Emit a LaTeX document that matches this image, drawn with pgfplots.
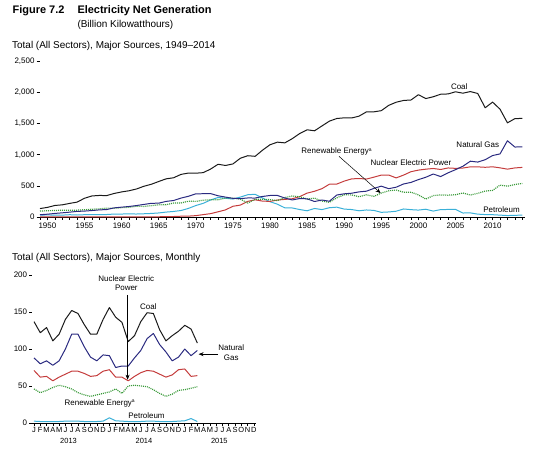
\documentclass[border=0pt]{standalone}
\usepackage{fontspec}
\setmainfont{Liberation Sans}
\usepackage{pgfplots}
\pgfplotsset{compat=1.18}
\usepackage{pgfplotstable}
\usetikzlibrary{arrows.meta}

\definecolor{coalc}{HTML}{1A1A1A}
\definecolor{gasc}{HTML}{2A2A80}
\definecolor{nucc}{HTML}{C43C3C}
\definecolor{renc}{HTML}{3A9A3A}
\definecolor{petc}{HTML}{3AB0D8}

\pgfplotstableread{
year coal gas nuc pet ren
1949 135.5 37 0 29 95
1950 154.5 45 0 34 101
1951 185.2 57 0 29 104
1952 195.4 67 0 30 110
1953 218.8 78 0 37 110
1954 239.1 90 0 32 110
1955 301.4 95 0 37 117
1956 338.5 104 0 37 125
1957 346.4 114 0 40 131
1958 344.4 120 0.2 40 143
1959 378.4 147 0.2 47 141
1960 403.1 158 0.5 48 150
1961 421.9 169 1.7 49 156
1962 450.2 184 2.3 48 172
1963 493.9 202 3.2 52 170
1964 526.2 220 3.3 57 182
1965 570.9 222 3.7 65 196
1966 613.5 251 5.5 79 198
1967 630.5 265 7.7 89 224
1968 684.9 304 12.5 104 225
1969 706.0 333 13.9 138 254
1970 704.4 373 21.8 184 251
1971 713.1 374 38.1 220 270
1972 771.1 376 54.1 274 277
1973 847.7 341 83.5 314 276
1974 828.4 320 114.0 301 306
1975 852.8 300 172.5 289 303
1976 944.4 295 191.1 320 288
1977 985.2 306 250.9 358 224
1978 975.7 305 276.4 365 284
1979 1075.0 330 255.2 304 285
1980 1161.6 346 251.1 246 279
1981 1203.2 346 272.7 206 264
1982 1192.0 305 282.8 147 313
1983 1259.4 274 293.7 145 338
1984 1341.7 297 327.6 120 325
1985 1402.1 292 383.7 100 289
1986 1385.8 249 414.0 137 303
1987 1463.8 273 455.3 119 256
1988 1540.7 253 527.0 149 236
1989 1583.6 353 529.4 158 308
1990 1594.0 373 576.9 127 357
1991 1592.0 382 612.6 120 355
1992 1621.2 404 618.8 100 326
1993 1690.1 415 610.3 113 357
1994 1690.7 460 640.4 106 331
1995 1709.4 496 673.4 75 385
1996 1795.2 455 674.7 81 421
1997 1845.0 479 628.6 93 434
1998 1873.5 531 673.7 129 398
1999 1881.1 556 728.3 118 399
2000 1966.3 601 753.9 111 356
2001 1903.8 639 768.8 125 288
2002 1933.1 691 780.1 95 344
2003 1973.7 650 763.7 119 355
2004 1978.3 710 788.5 121 351
2005 2012.9 761 782.0 122 358
2006 1990.5 816 787.2 64 386
2007 2016.5 897 806.4 66 353
2008 1985.8 883 806.2 46 380
2009 1755.9 921 798.9 39 417
2010 1847.3 988 807.0 37 427
2011 1733.4 1014 790.2 30 513
2012 1514.0 1226 769.3 23 495
2013 1581.1 1125 789.0 27 522
2014 1585.7 1127 797.2 30 540
}\annual

\pgfplotstableread{
m coal gas nuc ren pet
0 137 88 71 46 2.5
1 122 80 62 41 2
2 129 84 63 44 2
3 111 78 57 48 2
4 120 84 62 51 2
5 140 100 66 49 2.5
6 152 120 70 46 2.5
7 148 120 70 41 2.5
8 133 103 67 38 2
9 120 89 63 36 2
10 120 84 64 38 2
11 140 92 70 40 2.5
12 156 91 72 42 7
13 143 75 62 46 3
14 136 77 62 40 2.5
15 110 77 57 50 2
16 118 88 63 51 2
17 137 98 68 50 2
18 149 114 71 49 2.5
19 148 121 70 45 2.5
20 126 106 66 40 2
21 111 96 62 36 2
22 118 84 65 39 2
23 124 89 72 44 2.5
24 132 100 73 45 3
25 127 91 63 47 6
26 108 98 64 49 2
}\monthly

\begin{document}
\begin{tikzpicture}
\path (0bp,0bp) rectangle (550bp,456bp);
% titles
\node[anchor=base west,inner sep=0,font=\bfseries\fontsize{11}{13}\selectfont] at (12.5bp,442.8bp) {Figure 7.2};
\node[anchor=base west,inner sep=0,font=\bfseries\fontsize{11}{13}\selectfont] at (77.3bp,442.8bp) {Electricity Net Generation};
\node[anchor=base west,inner sep=0,font=\fontsize{10}{12}\selectfont] at (77.3bp,428.4bp) {(Billion Kilowatthours)};
\node[anchor=base west,inner sep=0,font=\fontsize{10}{12}\selectfont] at (12bp,407.1bp) {Total (All Sectors), Major Sources, 1949--2014};
\node[anchor=base west,inner sep=0,font=\fontsize{10}{12}\selectfont] at (12bp,195.1bp) {Total (All Sectors), Major Sources, Monthly};

\begin{axis}[
  at={(40bp,239bp)}, anchor=south west,
  scale only axis, width=484.5bp, height=155.5bp,
  xmin=1949, xmax=2014.3, ymin=0, ymax=2500,
  axis x line*=bottom, axis y line*=left,
  y axis line style={draw=none},
  clip=false,
  tick align=outside,
  major tick length=3.5bp, minor tick length=3bp,
  tick style={black, line width=0.6pt},
  xtick={1950,1955,1960,1965,1970,1975,1980,1985,1990,1995,2000,2005,2010},
  xticklabels={1950,1955,1960,1965,1970,1975,1980,1985,1990,1995,2000,2005,2010},
  minor xtick={1949,1950,...,2014},
  ytick={0,500,1000,1500,2000,2500},
  yticklabels={0,500,{1,000},{1,500},{2,000},{2,500}},
  ticklabel style={font=\fontsize{8}{9}\selectfont},
  yticklabel style={xshift=1.5pt},
  xticklabel style={yshift=1pt},
  every axis plot/.append style={line width=1pt, line join=round},
]
\addplot[petc, no markers] table[x=year,y=pet] {\annual};
\addplot[nucc, no markers] table[x=year,y=nuc] {\annual};
\addplot[renc, densely dotted, no markers, line width=1.2pt] table[x=year,y=ren] {\annual};
\addplot[gasc, no markers] table[x=year,y=gas] {\annual};
\addplot[coalc, no markers] table[x=year,y=coal] {\annual};
\node[font=\fontsize{8}{9}\selectfont] at (axis cs:2005.5,2092) {Coal};
\node[font=\fontsize{8}{9}\selectfont] at (axis cs:2008,1166) {Natural Gas};
\node[font=\fontsize{8}{9}\selectfont] at (axis cs:1989,1048) {Renewable Energy\textsuperscript{\fontsize{5}{5}\selectfont a}};
\node[font=\fontsize{8}{9}\selectfont] at (axis cs:1999,866) {Nuclear Electric Power};
\node[font=\fontsize{8}{9}\selectfont] at (axis cs:2011.2,113) {Petroleum};
\draw[line width=0.5pt, -{Stealth[length=5pt,width=4pt]}] (axis cs:1989.3,975) -- (axis cs:1994.9,385);
\end{axis}

\begin{axis}[
  at={(32.1bp,33bp)}, anchor=south west,
  scale only axis, width=224.3bp, height=148bp,
  xmin=-0.3, xmax=35.4, ymin=0, ymax=200,
  axis x line*=bottom, axis y line*=left,
  y axis line style={draw=none},
  clip=false,
  tick align=outside,
  major tick length=3bp,
  tick style={black, line width=0.6pt},
  xtick={0,1,...,35},
  xticklabels={J,F,M,A,M,J,J,A,S,O,N,D,J,F,M,A,M,J,J,A,S,O,N,D,J,F,M,A,M,J,J,A,S,O,N,D},
  ytick={0,50,100,150,200},
  yticklabels={0,50,100,150,200},
  ticklabel style={font=\fontsize{8}{9}\selectfont},
  xticklabel style={font=\fontsize{7.5}{9}\selectfont, yshift=2pt, inner xsep=0pt},
  yticklabel style={xshift=1.5pt},
  every axis plot/.append style={line width=1pt, line join=round},
]
\addplot[petc, no markers] table[x=m,y=pet] {\monthly};
\addplot[renc, densely dotted, no markers, line width=1.2pt] table[x=m,y=ren] {\monthly};
\addplot[nucc, no markers] table[x=m,y=nuc] {\monthly};
\addplot[gasc, no markers] table[x=m,y=gas] {\monthly};
\addplot[coalc, no markers] table[x=m,y=coal] {\monthly};
\node[font=\fontsize{7.5}{9}\selectfont] at (axis cs:5.5,0) [yshift=-18bp] {2013};
\node[font=\fontsize{7.5}{9}\selectfont] at (axis cs:17.5,0) [yshift=-18bp] {2014};
\node[font=\fontsize{7.5}{9}\selectfont] at (axis cs:29.5,0) [yshift=-18bp] {2015};
\node[font=\fontsize{8}{9.5}\selectfont, align=center] at (axis cs:14.7,189) {Nuclear Electric\\Power};
\draw[line width=0.5pt, -{Stealth[length=5pt,width=4pt]}] (axis cs:14.9,173) -- (axis cs:14.9,58.5);
\node[font=\fontsize{8}{9}\selectfont] at (axis cs:18.2,157) {Coal};
\node[font=\fontsize{8}{9.5}\selectfont, align=center] at (axis cs:31.4,95) {Natural\\Gas};
\draw[line width=0.5pt, -{Stealth[length=5pt,width=4pt]}] (axis cs:29.3,93) -- (axis cs:26.2,93);
\node[font=\fontsize{8}{9}\selectfont] at (axis cs:10.5,26.6) {Renewable Energy\textsuperscript{\fontsize{5}{5}\selectfont a}};
\node[font=\fontsize{8}{9}\selectfont] at (axis cs:17.9,9.5) {Petroleum};
\end{axis}
\end{tikzpicture}
\end{document}
